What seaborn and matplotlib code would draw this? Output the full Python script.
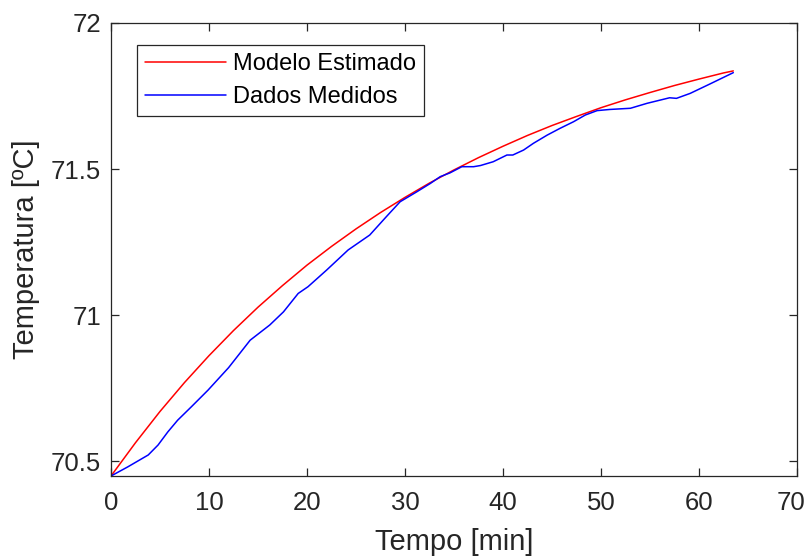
import numpy as np
import pandas as pd
import matplotlib
matplotlib.use("Agg")
import matplotlib.pyplot as plt
import matplotlib.transforms as mtransforms
import seaborn as sns

# Modelo Estimado
t_model = [0, 2.5, 5, 7.5, 10, 12.5, 15, 17.5, 20, 22.5, 25, 27.5, 30, 32.5,
           35, 37.5, 40, 42.5, 45, 47.5, 50, 52.5, 55, 57.5, 60, 62.5, 63.5]
T_model = [70.449, 70.563, 70.670, 70.769, 70.861, 70.947, 71.027, 71.101,
           71.171, 71.235, 71.295, 71.351, 71.403, 71.452, 71.497, 71.539,
           71.578, 71.615, 71.649, 71.680, 71.710, 71.737, 71.762, 71.786,
           71.808, 71.829, 71.836]

# Dados Medidos
t_meas = [0, 1.7, 3.8, 4.8, 5.8, 6.8, 8.2, 9.9, 12.0, 14.2, 16.2, 17.6, 19.1,
          20.1, 22.0, 24.2, 26.4, 28.1, 29.5, 31.2, 32.6, 33.6, 34.6, 35.8,
          37.0, 37.7, 39.0, 40.4, 41.0, 42.1, 43.1, 44.5, 45.8, 47.2, 48.4,
          49.6, 50.9, 53.0, 54.7, 57.0, 57.7, 59.1, 61.1, 63.5]
T_meas = [70.449, 70.480, 70.521, 70.555, 70.600, 70.640, 70.686, 70.743,
          70.820, 70.914, 70.966, 71.011, 71.074, 71.097, 71.154, 71.223,
          71.274, 71.337, 71.388, 71.422, 71.451, 71.474, 71.487, 71.508,
          71.508, 71.512, 71.525, 71.548, 71.548, 71.565, 71.588, 71.616,
          71.639, 71.662, 71.685, 71.700, 71.704, 71.708, 71.725, 71.744,
          71.742, 71.759, 71.791, 71.830]

x_ticks = [0, 10, 20, 30, 40, 50, 60, 70]
y_ticks = [70.5, 71, 71.5, 72]
y_tick_labels = ["70.5", "71", "71.5", "72"]
series_names = ["Modelo Estimado", "Dados Medidos"]
series_colors = ["#ff0000", "#0000ff"]

df = pd.concat([
    pd.DataFrame({"t": t_model, "T": T_model, "s": series_names[0]}),
    pd.DataFrame({"t": t_meas, "T": T_meas, "s": series_names[1]}),
], ignore_index=True)

sns.set_style("white")
plt.rcParams["font.family"] = ["Liberation Sans", "DejaVu Sans"]

fig = plt.figure(figsize=(8.07, 5.58), dpi=100)
ax = fig.add_axes([111/807, 1 - 476/558, 686/807, 453/558])

sns.lineplot(data=df, x="t", y="T", hue="s", palette=dict(zip(series_names, series_colors)),
             sort=False, estimator=None, linewidth=1.1, ax=ax)

ax.set_xlim(0, 70)
ax.set_ylim(70.449, 72)
ax.set_xticks(x_ticks)
ax.set_xticklabels([str(v) for v in x_ticks])
ax.set_yticks(y_ticks)
ax.set_yticklabels(y_tick_labels)

axc = "#262626"
for sp in ax.spines.values():
    sp.set_visible(True)
    sp.set_color(axc)
    sp.set_linewidth(0.9)
ax.tick_params(direction="in", length=6, width=0.9, color=axc, labelcolor=axc,
               labelsize=18.5, top=True, right=True, bottom=True, left=True)
ax.tick_params(axis="x", pad=11)
ax.tick_params(axis="y", pad=7)

# keep the last x tick label inside the canvas
last = ax.get_xticklabels()[-1]
last.set_transform(last.get_transform() + mtransforms.ScaledTranslation(-6/100, 0, fig.dpi_scale_trans))

ax.set_xlabel("Tempo [min]", fontsize=21, color=axc, labelpad=9)
ax.set_ylabel("Temperatura [ºC]", fontsize=21, color=axc, labelpad=8)

leg = ax.legend(loc="upper left", bbox_to_anchor=(0.038, 0.951), borderaxespad=0,
                fontsize=17, frameon=True, fancybox=False, framealpha=1,
                handlelength=3.4, handletextpad=0.3, borderpad=0.35,
                labelspacing=0.45, title=None)
leg.get_frame().set_edgecolor(axc)
leg.get_frame().set_linewidth(0.9)
for txt in leg.get_texts():
    txt.set_color("black")

fig.savefig("out.png", dpi=100)
